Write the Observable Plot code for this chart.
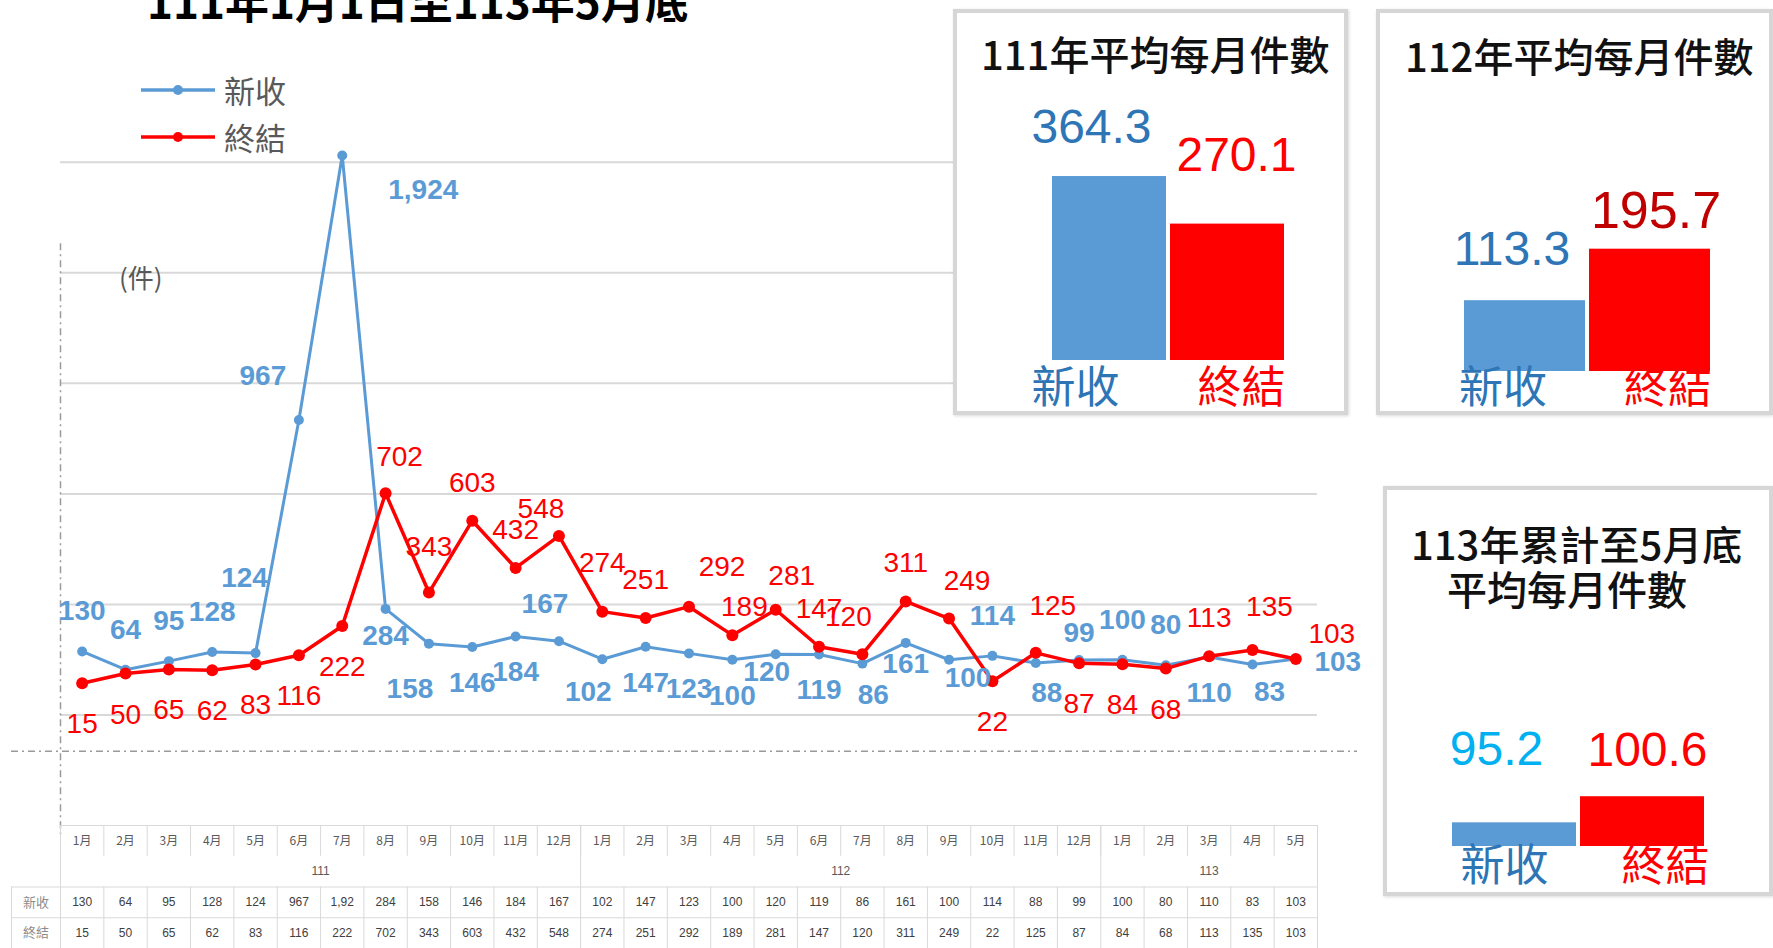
<!DOCTYPE html>
<html><head><meta charset="utf-8">
<script src="https://cdn.jsdelivr.net/npm/d3@7"></script>
<script src="https://cdn.jsdelivr.net/npm/@observablehq/plot@0.6"></script>
<style>
html,body{margin:0;padding:0;background:#fff;}
#root{position:relative;width:1773px;height:948px;overflow:hidden;background:#fff;font-family:"Noto Sans CJK TC",sans-serif;}
.abs{position:absolute;}
.abs svg, svg.abs{overflow:visible;}
.panel{position:absolute;box-sizing:border-box;border:4px solid #d6d6d6;background:#fff;box-shadow:1px 1px 3px rgba(0,0,0,0.15);}
.ptitle{position:absolute;white-space:nowrap;font-family:"Noto Sans CJK TC",sans-serif;font-weight:500;font-size:40px;color:#111;line-height:1;}
.leg{position:absolute;white-space:nowrap;font-family:"Noto Sans CJK TC",sans-serif;font-size:31px;color:#595959;line-height:1;}
</style></head><body><div id="root"></div>
<script>
// ---------------- data ----------------
const titleText = "111年1月1日至113年5月底";
const unitText = "(件)";
const seriesNames = ["新收", "終結"];
const months = ["1月","2月","3月","4月","5月","6月","7月","8月","9月","10月","11月","12月",
                "1月","2月","3月","4月","5月","6月","7月","8月","9月","10月","11月","12月",
                "1月","2月","3月","4月","5月"];
const yearLabels = ["111", "112", "113"];
const monthsPerYear = [12, 12, 5];
const received = [130,64,95,128,124,967,1924,284,158,146,184,167,
                  102,147,123,100,120,119,86,161,100,114,88,99,
                  100,80,110,83,103];
const closed = [15,50,65,62,83,116,222,702,343,603,432,548,
                274,251,292,189,281,147,120,311,249,22,125,87,
                84,68,113,135,103];
const gridValues = [-100, 300, 700, 1100, 1500, 1900];
const panelTitles = ["111年平均每月件數", "112年平均每月件數", "113年累計至5月底", "平均每月件數"];
const avg111 = [364.3, 270.1];
const avg112 = [113.3, 195.7];
const avg113 = [95.2, 100.6];

// ---------------- layout / style ----------------
const W = 1773, H = 948;
const BLUE = "#5B9BD5", RED = "#FF0000";
const seriesColor = {"新收": BLUE, "終結": RED};
const numFont = "Liberation Sans, Arial, sans-serif";
const cjkFont = "Noto Sans CJK TC, sans-serif";
const fmt = d3.format(",");
const root = document.getElementById("root");

const xDomain = [-0.5, months.length - 0.5];
const xRange = [60, 1317];
const colW = (xRange[1] - xRange[0]) / months.length;
const xLabelCol = xDomain[0] - 49 / colW;
const xFarRight = xDomain[1] + 40 / colW;
const yDomain = [-250, 2000];
const yRange = [756, 134];
const axisTop = 1605, axisBottom = -542, baseLine = -231;

function place(node, left, top) {
  node.classList.add("abs");
  node.style.left = left + "px";
  node.style.top = top + "px";
  root.appendChild(node);
  return node;
}
function textDiv(cls, txt, left, top, extra) {
  const d = document.createElement("div");
  d.className = cls;
  d.textContent = txt;
  d.style.left = left + "px";
  d.style.top = top + "px";
  if (extra) Object.assign(d.style, extra);
  root.appendChild(d);
  return d;
}

// ---------------- main line chart ----------------
const rows = [];
received.forEach((v, i) => rows.push({i, v, s: seriesNames[0]}));
closed.forEach((v, i) => rows.push({i, v, s: seriesNames[1]}));

const labelNudge = {
  "新收-4": [-11, -75], "新收-5": [-36, -44], "新收-6": [81, 35], "新收-7": [0, 27],
  "新收-8": [-19, 45], "新收-11": [-14, -37], "新收-12": [-14, 33], "新收-16": [-9, 18],
  "新收-18": [11, 31], "新收-19": [0, 21], "新收-20": [19, 18], "新收-22": [11, 30],
  "新收-23": [0, -27], "新收-27": [17, 28], "新收-28": [42, 3],
  "終結-7": [14, -36], "終結-8": [0, -46], "終結-11": [-18, -27], "終結-12": [0, -49],
  "終結-14": [33, -40], "終結-15": [12, -28], "終結-16": [16, -34], "終結-18": [-14, -37],
  "終結-20": [18, -38], "終結-22": [17, -47], "終結-27": [17, -43], "終結-28": [36, -25]
};
function nudge(d) {
  const k = d.s + "-" + d.i;
  if (labelNudge[k]) return labelNudge[k];
  const b = received[d.i], r = closed[d.i];
  if (d.s === seriesNames[0]) return b >= r ? [0, -40] : [0, 36];
  return r < b ? [0, 41] : [0, -38];
}

const labelMarks = rows.map(d => {
  const [dx, dy] = nudge(d);
  const isBlue = d.s === seriesNames[0];
  return Plot.text([d], {x: "i", y: "v", text: r => fmt(r.v), dx, dy,
    fill: seriesColor[d.s], fontSize: isBlue ? 28 : 28, fontWeight: isBlue ? "bold" : "normal", fontFamily: numFont});
});

const mainPlot = Plot.plot({
  width: W, height: H,
  style: {background: "transparent", overflow: "visible"},
  x: {domain: xDomain, range: xRange, axis: null},
  y: {domain: yDomain, range: yRange, axis: null},
  marks: [
    Plot.ruleY(gridValues, {x1: xDomain[0], x2: xDomain[1], stroke: "#d9d9d9", strokeWidth: 2}),
    Plot.ruleX([xDomain[0]], {y1: axisTop, y2: axisBottom, stroke: "#9a9a9a", strokeWidth: 1.5, strokeDasharray: "7,4,2,4"}),
    Plot.ruleY([baseLine], {x1: xLabelCol, x2: xFarRight, stroke: "#9a9a9a", strokeWidth: 1.5, strokeDasharray: "7,4,2,4"}),
    Plot.line(rows.filter(d => d.s === seriesNames[0]), {x: "i", y: "v", stroke: BLUE, strokeWidth: 3}),
    Plot.dot(rows.filter(d => d.s === seriesNames[0]), {x: "i", y: "v", fill: BLUE, r: 5}),
    Plot.line(rows.filter(d => d.s === seriesNames[1]), {x: "i", y: "v", stroke: RED, strokeWidth: 3.5}),
    Plot.dot(rows.filter(d => d.s === seriesNames[1]), {x: "i", y: "v", fill: RED, r: 6}),
    ...labelMarks
  ]
});
place(mainPlot, 0, 0);

// ---------------- data table under the chart ----------------
const yearSpans = [];
let start = 0;
monthsPerYear.forEach((n, k) => { yearSpans.push({label: yearLabels[k], a: start - 0.5, b: start + n - 0.5}); start += n; });
const colEdges = d3.range(months.length + 1).map(k => k - 0.5);
const cell = v => { const s = fmt(v); return s.length > 4 ? s.slice(0, 4) : s; };
const tableGray = "#d9d9d9";
const tablePlot = Plot.plot({
  width: W, height: 123,
  style: {background: "transparent", overflow: "visible"},
  x: {domain: xDomain, range: xRange, axis: null},
  y: {domain: [0, 4], range: [0, 123], axis: null},
  marks: [
    Plot.ruleY([0], {x1: xDomain[0], x2: xDomain[1], stroke: tableGray}),
    Plot.ruleY([2, 3, 4], {x1: xLabelCol, x2: xDomain[1], stroke: tableGray}),
    Plot.ruleX(colEdges, {y1: 0, y2: 1, stroke: tableGray}),
    Plot.ruleX([yearSpans[0].a, ...yearSpans.map(s => s.b)], {y1: 0, y2: 2, stroke: tableGray}),
    Plot.ruleX([xLabelCol, ...colEdges], {y1: 2, y2: 4, stroke: tableGray}),
    Plot.text(months, {x: (d, i) => i, y: 0.5, text: d => d, fontSize: 12, fill: "#595959", fontFamily: cjkFont}),
    Plot.text(yearSpans, {x: d => (d.a + d.b) / 2, y: 1.5, text: "label", fontSize: 12, fill: "#595959", fontFamily: numFont}),
    Plot.text(received, {x: (d, i) => i, y: 2.5, text: cell, fontSize: 12, fill: "#404040", fontFamily: numFont}),
    Plot.text(closed, {x: (d, i) => i, y: 3.5, text: cell, fontSize: 12, fill: "#404040", fontFamily: numFont}),
    Plot.text(seriesNames, {x: (xLabelCol + xDomain[0]) / 2, y: (d, i) => 2.5 + i, text: d => d, fontSize: 13, fill: "#8c8c8c", fontFamily: cjkFont})
  ]
});
place(tablePlot, 0, 825);

// ---------------- title, legend, unit ----------------
textDiv("abs", titleText, 147, -22, {fontFamily: cjkFont, fontSize: "44px", fontWeight: "700", lineHeight: "1", color: "#000", whiteSpace: "nowrap"});
textDiv("abs", unitText, 119, 264, {fontFamily: cjkFont, fontSize: "26px", lineHeight: "1", color: "#595959", whiteSpace: "nowrap"});

seriesNames.forEach((name, k) => {
  const cy = [90, 137][k];
  const sw = document.createElementNS("http://www.w3.org/2000/svg", "svg");
  sw.setAttribute("width", 76); sw.setAttribute("height", 14);
  sw.innerHTML = `<line x1="0" y1="7" x2="74" y2="7" stroke="${seriesColor[name]}" stroke-width="3.5"/><circle cx="37" cy="7" r="5" fill="${seriesColor[name]}"/>`;
  sw.style.position = "absolute"; sw.style.left = "141px"; sw.style.top = (cy - 7) + "px";
  root.appendChild(sw);
  textDiv("leg", name, 224, cy - 16);
});

// ---------------- summary panels ----------------
function panel(box, titles, vals, cfg) {
  const p = document.createElement("div");
  p.className = "panel";
  Object.assign(p.style, {left: box[0] + "px", top: box[1] + "px", width: box[2] + "px", height: box[3] + "px"});
  root.appendChild(p);
  titles.forEach(t => textDiv("ptitle", t.text, t.left, t.top));
  const data = vals.map((v, k) => ({c: seriesNames[k], v, k}));
  const marks = [
    Plot.barY(data, {x: "c", y1: cfg.yDomain[0], y2: "v", fill: d => [BLUE, RED][d.k]})
  ];
  data.forEach(d => {
    marks.push(Plot.text([d], {x: "c", y: "v", text: r => r.v.toFixed(1), dx: cfg.valNudge[d.k][0], dy: cfg.valNudge[d.k][1],
      fill: cfg.valColors[d.k], fontSize: cfg.valSize[d.k], fontFamily: numFont}));
    marks.push(Plot.text([d], {x: "c", y: cfg.yDomain[0], text: "c", dx: cfg.catNudge[d.k][0], dy: cfg.catNudge[d.k][1],
      fill: ["#2E75B6", RED][d.k], fontSize: 44, fontFamily: cjkFont}));
  });
  const pl = Plot.plot({
    width: box[2], height: box[3],
    style: {background: "transparent", overflow: "visible"},
    color: {type: "identity"},
    x: {domain: seriesNames, range: cfg.xRange, padding: 0, paddingInner: cfg.pad, paddingOuter: 0, axis: null},
    y: {domain: cfg.yDomain, range: cfg.yRange, axis: null},
    marks
  });
  place(pl, box[0], box[1]);
}

panel([953, 9, 395, 406], [{text: panelTitles[0], left: 981, top: 33}], avg111, {
  xRange: [99, 331], pad: 0.035, yDomain: [0, 600], yRange: [351, 48],
  valColors: ["#2E75B6", RED], valSize: [48, 48], valNudge: [[-18, -49], [9, -68]], catNudge: [[-34, 28], [14, 28]]
});
panel([1376, 9, 397, 406], [{text: panelTitles[1], left: 1405, top: 35}], avg112, {
  xRange: [88, 334], pad: 0.032, yDomain: [0, 500], yRange: [362, 49.5],
  valColors: ["#2E75B6", "#C00000"], valSize: [48, 52], valNudge: [[-13, -51], [6, -38]], catNudge: [[-22, 17], [18, 17]]
});
panel([1383, 486, 390, 410], [{text: panelTitles[2], left: 1411, top: 523}, {text: panelTitles[3], left: 1447, top: 568}], avg113, {
  xRange: [68, 322], pad: 0.031, yDomain: [90.3, 110], yRange: [360, 264.8],
  valColors: ["#00B0F0", RED], valSize: [48, 48], valNudge: [[-18, -73], [5, -46]], catNudge: [[-10, 20], [23, 20]]
});
</script>
</body></html>
